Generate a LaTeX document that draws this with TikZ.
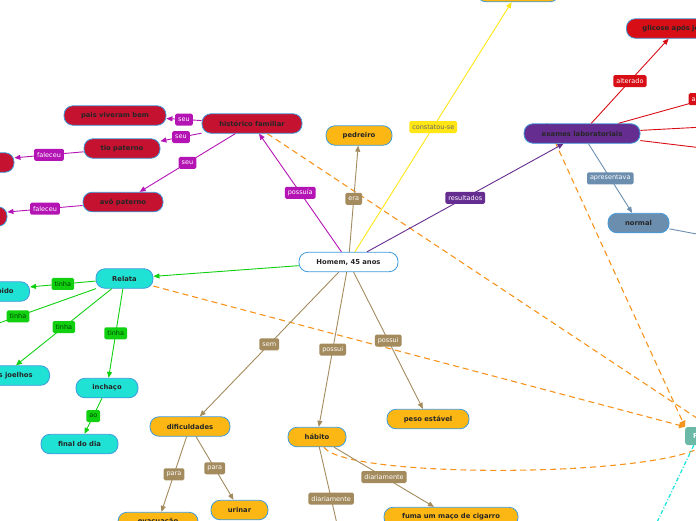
\documentclass[tikz,border=0pt]{standalone}
\usepackage{fontspec}
\setmainfont{DejaVu Sans}
\definecolor{mapBorder}{RGB}{62,155,220}
\definecolor{mapYellow}{RGB}{253,183,20}
\definecolor{mapBrown}{RGB}{163,139,94}
\definecolor{mapCrimson}{RGB}{196,18,48}
\definecolor{mapMagenta}{RGB}{180,20,180}
\definecolor{mapPurple}{RGB}{102,45,145}
\definecolor{mapRed}{RGB}{216,14,22}
\definecolor{mapSteel}{RGB}{108,142,174}
\definecolor{mapCyan}{RGB}{32,226,212}
\definecolor{mapGreen}{RGB}{16,208,16}
\definecolor{mapLemon}{RGB}{255,230,20}
\definecolor{mapOrange}{RGB}{247,148,30}
\definecolor{mapTeal}{RGB}{107,185,166}
\definecolor{mapAqua}{RGB}{30,230,220}
\usetikzlibrary{arrows.meta, backgrounds}

\begin{document}
\begin{tikzpicture}[x=1pt, y=-1pt,
    concept/.style={draw=mapBorder, line width=0.8pt, rounded corners=9pt,
                    minimum height=19.5pt, inner xsep=4pt, inner ysep=2pt,
                    font=\fontsize{6.8}{8}\selectfont\bfseries, text=black!85},
    lbl/.style={fill=#1, text=white, rounded corners=1.5pt, inner xsep=3pt,
                inner ysep=1pt, minimum height=12pt, font=\fontsize{6.5}{7}\selectfont},
    glbl/.style={lbl=mapGreen, text=green!25!black},
    arr/.style={-{Triangle[length=6pt,width=5pt]}, line width=0.9pt, draw=#1},
    risk/.style={-{Triangle[length=6pt,width=6pt]}, line width=1.1pt, draw=mapOrange,
                 dash pattern=on 6pt off 4pt},
    aqualink/.style={line width=1.3pt, draw=mapAqua, dash pattern=on 4pt off 2pt on 1pt off 2pt}
  ]
    \useasboundingbox (0,0) rectangle (696,520);
    \clip (0,0) rectangle (696,520);

    % Centre
    \node[concept, fill=white, minimum width=99pt] (homem) at (348.5,262) {Homem, 45 anos};

    % Job, finding, lab tests
    \node[concept, fill=mapYellow, minimum width=66pt] (pedreiro) at (359,135.5) {pedreiro};
    \node[concept, fill=mapYellow, minimum width=82pt] (achado) at (518,-8) {};
    \node[concept, fill=mapPurple, minimum width=116pt] (exames) at (582,133.5) {exames laboratoriais};
    \node[concept, fill=mapRed, anchor=west, inner xsep=16pt] (glicose) at (626,28.5) {glicose após jejum};
    \node[concept, fill=mapSteel, minimum width=61pt] (normal) at (638.5,223) {normal};

    % Family history
    \node[concept, fill=mapCrimson, minimum width=100pt] (historico) at (252,123.5) {histórico familiar};
    \node[concept, fill=mapCrimson, minimum width=102pt] (pais) at (115,115.5) {pais viveram bem};
    \node[concept, fill=mapCrimson, minimum width=76pt] (tio) at (122,148.5) {tio paterno};
    \node[concept, fill=mapCrimson, minimum width=80pt] (avo) at (123,202) {avô paterno};
    \node[concept, fill=mapCrimson, minimum width=108pt] (tioCausa) at (-40,162.5) {};
    \node[concept, fill=mapCrimson, minimum width=104pt] (avoCausa) at (-45,216.5) {};

    % Complaints
    \node[concept, fill=mapCyan, minimum width=57pt] (relata) at (124.5,278.5) {Relata};
    \node[concept, fill=mapCyan, anchor=east, inner xsep=16pt] (sono) at (30,291.5) {sono interrompido};
    \node[concept, fill=mapCyan, anchor=east, inner xsep=17pt] (joelhos) at (50,375.5) {dor nos joelhos};
    \node[concept, fill=mapCyan, minimum width=62pt] (inchaco) at (107,388) {inchaço};
    \node[concept, fill=mapCyan, minimum width=77pt] (finalDia) at (79.5,444) {final do dia};

    % Habits and difficulties
    \node[concept, fill=mapYellow, minimum width=80pt] (dificuldades) at (190,426.5) {dificuldades};
    \node[concept, fill=mapYellow, minimum width=80pt] (evacuar) at (158,522) {evacuação};
    \node[concept, fill=mapYellow, minimum width=57pt] (urinar) at (239.5,510) {urinar};
    \node[concept, fill=mapYellow, minimum width=58pt] (habito) at (317,437) {hábito};
    \node[concept, fill=mapYellow, minimum width=82pt] (peso) at (428,419) {peso estável};
    \node[concept, fill=mapYellow, minimum width=134pt] (fuma) at (451,517) {fuma um maço de cigarro};

    % Risk
    \node[fill=mapTeal, rounded corners=2.5pt, minimum height=18pt, inner xsep=8pt, text=white,
          font=\fontsize{6.8}{8}\selectfont\bfseries, anchor=west] (fator) at (685,436) {Fatores de risco};

    % Ends outside the picture
    \coordinate (relataOff) at (-60,344);
    \coordinate (habitoOff) at (343,550);
    \coordinate (altOff) at (792,75);
    \coordinate (exOff2) at (760,124);
    \coordinate (exOff3) at (760,155);
    \coordinate (normalOff) at (760,246);
    \coordinate (fatorOff) at (648,541);

    % From the man
    \draw[arr=mapMagenta] (homem) -- node[lbl=mapMagenta] {possuía} (historico);
    \draw[arr=mapBrown] (homem) -- node[lbl=mapBrown] {era} (pedreiro);
    \draw[arr=mapLemon] (homem) -- node[lbl=mapLemon, text=black!60] {constatou-se} (achado);
    \draw[arr=mapPurple] (homem) -- node[lbl=mapPurple] {resultados} (exames);
    \draw[arr=mapGreen] (homem) -- (relata);
    \draw[arr=mapBrown] (homem) -- node[lbl=mapBrown] {sem} (dificuldades);
    \draw[arr=mapBrown] (homem) -- node[lbl=mapBrown] {possui} (habito);
    \draw[arr=mapBrown] (homem) -- node[lbl=mapBrown] {possui} (peso);

    % Family
    \draw[arr=mapMagenta] (historico) -- node[lbl=mapMagenta] {seu} (pais);
    \draw[arr=mapMagenta] (historico) -- node[lbl=mapMagenta] {seu} (tio);
    \draw[arr=mapMagenta] (historico) -- node[lbl=mapMagenta] {seu} (avo);
    \draw[arr=mapMagenta] (tio) -- node[lbl=mapMagenta] {faleceu} (tioCausa);
    \draw[arr=mapMagenta] (avo) -- node[lbl=mapMagenta] {faleceu} (avoCausa);

    % Complaints
    \draw[arr=mapGreen] (relata) -- node[glbl] {tinha} (sono);
    \draw[arr=mapGreen] (relata) -- node[glbl] {tinha} (relataOff);
    \draw[arr=mapGreen] (relata) -- node[glbl] {tinha} (joelhos);
    \draw[arr=mapGreen] (relata) -- node[glbl] {tinha} (inchaco);
    \draw[arr=mapGreen] (inchaco) -- node[glbl] {ao} (finalDia);

    % Habits
    \draw[arr=mapBrown] (dificuldades) -- node[lbl=mapBrown] {para} (evacuar);
    \draw[arr=mapBrown] (dificuldades) -- node[lbl=mapBrown] {para} (urinar);
    \draw[arr=mapBrown] (habito) -- node[lbl=mapBrown] {diariamente} (fuma);
    \draw[arr=mapBrown] (habito) -- node[lbl=mapBrown] {diariamente} (habitoOff);

    % Lab tests
    \draw[arr=mapRed] (exames) -- node[lbl=mapRed] {alterado} (glicose);
    \draw[arr=mapRed] (exames) -- node[lbl=mapRed] {alterado} (altOff);
    \draw[arr=mapRed] (exames) -- (exOff2);
    \draw[arr=mapRed] (exames) -- (exOff3);
    \draw[arr=mapSteel] (exames) -- node[lbl=mapSteel] {apresentava} (normal);
    \draw[arr=mapSteel] (normal) -- (normalOff);

    % Risk links, behind the nodes
    \begin{scope}[on background layer]
      \clip (0,0) rectangle (696,520);
      \draw[risk] (historico) -- (fator);
      \draw[risk] (relata) -- (fator.north west);
      \draw[risk] (exames.164) -- (fator.north west);
      \draw[risk] (habito) .. controls (345,478) and (640,478) .. (fator);
      \draw[aqualink] (fator.197) -- (fatorOff);
    \end{scope}
  \end{tikzpicture}
\end{document}
